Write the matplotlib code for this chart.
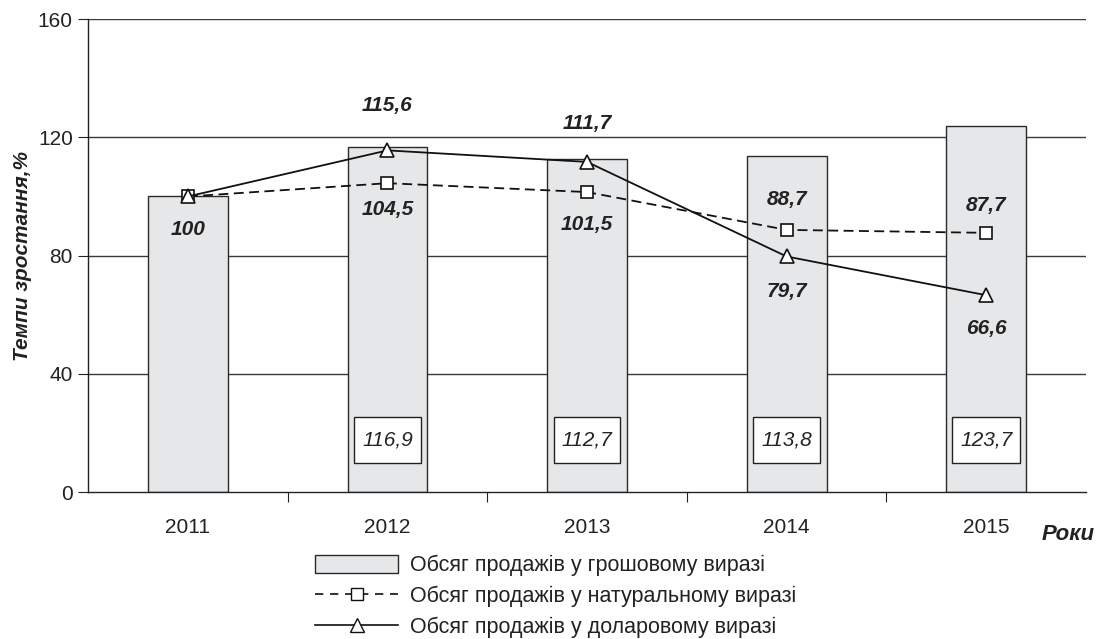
import matplotlib
matplotlib.use("Agg")
import matplotlib.pyplot as plt
from matplotlib.patches import Patch
from matplotlib.lines import Line2D
from matplotlib.path import Path

plt.rcParams['font.family'] = ['Liberation Sans', 'DejaVu Sans']

years = ['2011', '2012', '2013', '2014', '2015']
money = [100, 116.9, 112.7, 113.8, 123.7]
natural = [100, 104.5, 101.5, 88.7, 87.7]
dollar = [100, 115.6, 111.7, 79.7, 66.6]
money_labels = [None, '116,9', '112,7', '113,8', '123,7']
natural_labels = ['', '104,5', '101,5', '88,7', '87,7']
dollar_labels = ['100', '115,6', '111,7', '79,7', '66,6']
yticks = [0, 40, 80, 120, 160]

TXT = '#222222'

fig = plt.figure(figsize=(11.02, 6.39), dpi=100)
ax = fig.add_axes([0.0799, 0.230, 0.9056, 0.740])

x = list(range(len(years)))
ax.set_xlim(-0.5, 4.5)
ax.set_ylim(0, 160)

for yv in yticks[1:]:
    ax.axhline(yv, color='#3a3a3a', lw=1.0, zorder=1)

ax.bar(x, money, width=0.4, color='#e6e7e8', edgecolor='#2a2a2a', lw=1.0, zorder=2)
ax.plot(x, natural, ls=(0, (5.5, 3)), color='#111111', lw=1.3, marker='s', ms=8,
        mfc='white', mec='#111111', mew=1.2, zorder=4)
ax.plot(x, dollar, ls='-', color='#111111', lw=1.3, marker='^', ms=10,
        mfc='white', mec='#111111', mew=1.2, zorder=5)


def wide_box(x0, y0, width, height, mutation_size):
    px = 0.38 * mutation_size
    py = 0.65 * mutation_size
    x0, y0 = x0 - px, y0 - py
    x1, y1 = x0 + width + 2 * px, y0 + height + 2 * py
    return Path([(x0, y0), (x1, y0), (x1, y1), (x0, y1), (x0, y0)],
                closed=True)


# boxed money labels
for xi, lab in zip(x, money_labels):
    if lab:
        ax.text(xi, 17.6, lab, ha='center', va='center', fontsize=15, style='italic',
                color=TXT, zorder=6,
                bbox=dict(boxstyle=wide_box, fc='white', ec='#222222', lw=1.0))

# line labels (positions in data units)
natural_pos = [None, 95.5, 90.5, 99.0, 97.1]
dollar_pos = [88.8, 130.9, 124.7, 68.0, 55.3]
for xi, lab, yp in zip(x, natural_labels, natural_pos):
    if lab:
        ax.text(xi, yp, lab, ha='center', va='center', fontsize=15, style='italic',
                weight='bold', color=TXT, zorder=6)
for xi, lab, yp in zip(x, dollar_labels, dollar_pos):
    ax.text(xi, yp, lab, ha='center', va='center', fontsize=15, style='italic',
            weight='bold', color=TXT, zorder=6)

ax.set_yticks(yticks)
ax.set_yticklabels([str(v) for v in yticks], fontsize=15, color=TXT)
ax.set_xticks([i + 0.5 for i in range(4)])
ax.set_xticklabels([])
ax.set_xticks(x, minor=True)
ax.set_xticklabels(years, minor=True, fontsize=15, color=TXT)
ax.tick_params(axis='x', which='minor', length=0, pad=19)
ax.tick_params(axis='x', which='major', length=7, direction='out', color='#222222')
ax.tick_params(axis='y', length=7, direction='out', color='#222222', pad=4)

for s in ['top', 'right']:
    ax.spines[s].set_visible(False)
for s in ['left', 'bottom']:
    ax.spines[s].set_color('#222222')
    ax.spines[s].set_linewidth(1.0)

ax.set_ylabel('Темпи зростання,%', fontsize=15, style='italic', weight='bold',
              color=TXT, labelpad=4)
fig.text(1095 / 1102, 1 - 535 / 639, 'Роки', ha='right', va='center', fontsize=16,
         style='italic', weight='bold', color=TXT)

handles = [
    Patch(facecolor='#e6e7e8', edgecolor='#2a2a2a', lw=1.0),
    Line2D([], [], ls=(0, (5, 4)), color='#111111', lw=1.2, marker='s', ms=8,
           mfc='white', mec='#111111'),
    Line2D([], [], ls='-', color='#111111', lw=1.2, marker='^', ms=10,
           mfc='white', mec='#111111'),
]
labels = ['Обсяг продажів у грошовому виразі',
          'Обсяг продажів у натуральному виразі',
          'Обсяг продажів у доларовому виразі']
fig.legend(handles, labels, loc='upper left', bbox_to_anchor=(315 / 1102, 1 - 555 / 639),
           frameon=False, fontsize=15.5, handlelength=3.86, handleheight=0.88,
           handletextpad=0.55, labelspacing=0.45, borderpad=0, borderaxespad=0,
           labelcolor=TXT)

fig.savefig('out.png', dpi=100)
